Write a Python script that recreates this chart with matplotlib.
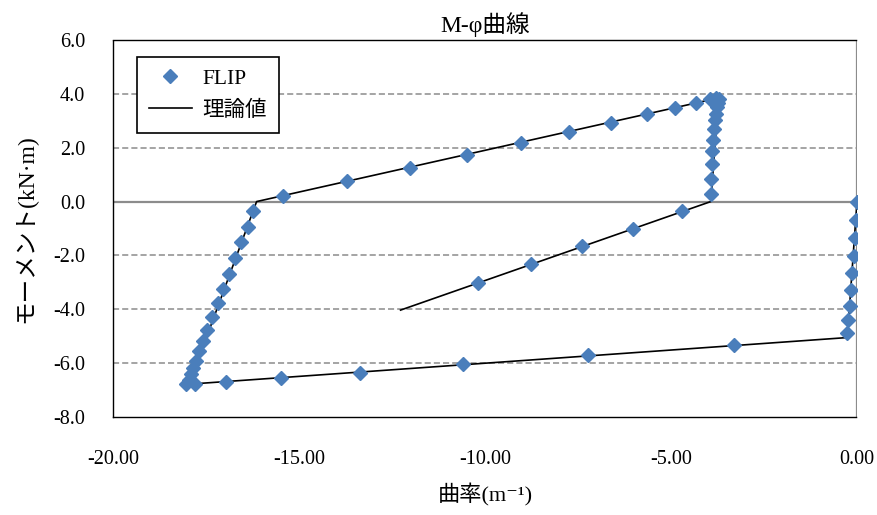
import matplotlib
matplotlib.use("Agg")
import matplotlib.pyplot as plt
from matplotlib.lines import Line2D

plt.rcParams['font.family'] = ['Liberation Serif', 'Noto Sans CJK JP', 'DejaVu Sans']

# FLIP results (curvature m^-1, moment kN·m)
flip_x = [0.00, -0.03, -0.05, -0.08, -0.14, -0.17, -0.20, -0.23, -0.26,
          -3.31, -7.22, -10.60, -13.36, -15.48, -16.96, -17.80, -18.03,
          -17.97, -17.91, -17.84, -17.77, -17.68, -17.57, -17.46, -17.33,
          -17.18, -17.03, -16.87, -16.73, -16.55, -16.38, -16.25,
          -15.44, -13.70, -12.02, -10.48, -9.03, -7.75, -6.62, -5.65,
          -4.89, -4.33, -3.95, -3.78, -3.72,
          -3.74, -3.77, -3.80, -3.82, -3.85, -3.87, -3.89, -3.91, -3.92, -3.93,
          -4.71, -6.03, -7.40, -8.76, -10.18]
flip_y = [0.00, -0.69, -1.37, -2.03, -2.67, -3.27, -3.89, -4.40, -4.88,
          -5.31, -5.71, -6.04, -6.35, -6.55, -6.70, -6.78, -6.78,
          -6.62, -6.42, -6.18, -5.93, -5.56, -5.19, -4.76, -4.27,
          -3.77, -3.24, -2.70, -2.10, -1.51, -0.95, -0.35,
          0.22, 0.76, 1.26, 1.73, 2.19, 2.57, 2.93, 3.24,
          3.46, 3.65, 3.81, 3.86, 3.80,
          3.66, 3.50, 3.27, 3.02, 2.71, 2.30, 1.87, 1.38, 0.83, 0.27,
          -0.36, -1.00, -1.64, -2.33, -3.03]

# Theoretical curve
theory_x = [0.00, -0.26, -17.95, -16.14, -3.72, -3.93, -12.27]
theory_y = [0.00, -5.05, -6.78, 0.00, 3.85, 0.00, -4.03]

xticks = [-20, -15, -10, -5, 0]
xtick_labels = ['-20.00', '-15.00', '-10.00', '-5.00', '0.00']
yticks = [-8, -6, -4, -2, 0, 2, 4, 6]
ytick_labels = ['-8.0', '-6.0', '-4.0', '-2.0', '0.0', '2.0', '4.0', '6.0']

fig = plt.figure(figsize=(8.78, 5.15), dpi=100)
ax = fig.add_axes([113/878, 1 - 417/515, (857 - 113)/878, (417 - 40)/515])

ax.set_xlim(-20, 0)
ax.set_ylim(-8, 6)
ax.set_xticks(xticks)
ax.set_xticklabels(xtick_labels)
ax.set_yticks(yticks)
ax.set_yticklabels(ytick_labels)
ax.tick_params(axis='both', length=0, labelsize=14.5)
ax.tick_params(axis='x', pad=24)
ax.tick_params(axis='y', pad=20)

# grid
ax.grid(axis='y', color='#8c8c8c', linestyle=(0, (4, 2)), linewidth=1.1)
ax.grid(axis='x', visible=False)
gl = ax.yaxis.get_gridlines()
for i, t in enumerate(yticks):
    if t in (-8, 0, 6):
        gl[i].set_visible(False)

for s in ax.spines.values():
    s.set_linestyle((0, (1, 1)))
    s.set_linewidth(1.0)
    s.set_color('black')

ax.axhline(0, color='#8c8c8c', linewidth=1.6, zorder=1.5)
ax.axvline(0, color='#8c8c8c', linewidth=1.6, zorder=1.5)
ax.spines['right'].set_visible(False)

ax.plot(theory_x, theory_y, color='black', linewidth=1.2, zorder=3, label='理論値')
ax.plot(flip_x, flip_y, linestyle='none', marker='D', markersize=7,
        color='#4A7EBB', zorder=4, label='FLIP')

handles = [Line2D([], [], linestyle='none', marker='D', markersize=7, color='#4A7EBB'),
           Line2D([], [], color='black', linewidth=1.2)]
leg = ax.legend(handles, ['FLIP', '理論値'], loc='upper left',
                bbox_to_anchor=(0.032, 0.955), borderaxespad=0, fontsize=15.5,
                fancybox=False, framealpha=1, edgecolor='black',
                handlelength=2.0, handletextpad=0.5, labelspacing=0.55,
                borderpad=0.55)
leg.get_frame().set_linewidth(1.2)

ax.set_title('M-φ曲線', fontsize=17, pad=6)
ax.set_xlabel('曲率(m⁻¹)', fontsize=16, labelpad=10)
ax.set_ylabel('モーメント(kN·m)', fontsize=17, labelpad=12)

fig.savefig('out.png', dpi=100)
